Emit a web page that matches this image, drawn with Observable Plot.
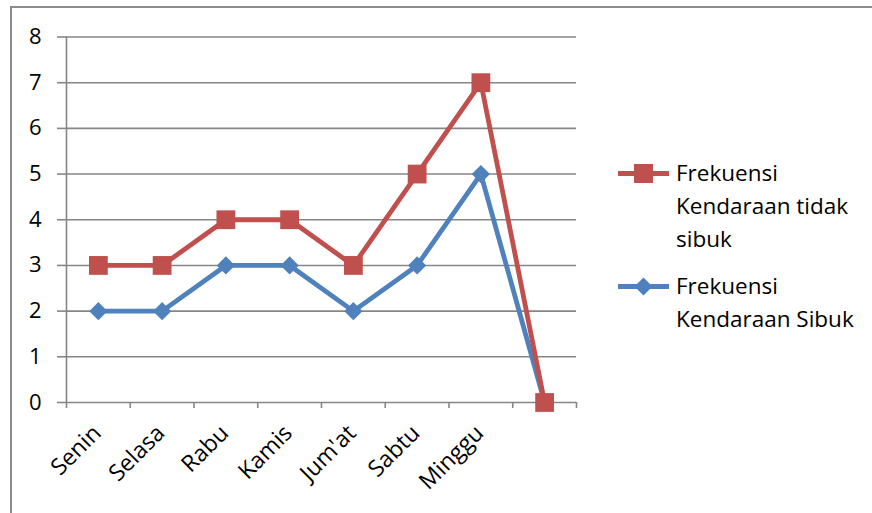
<!DOCTYPE html>
<html>
<head>
<meta charset="utf-8">
<script src="https://cdn.jsdelivr.net/npm/d3@7"></script>
<script src="https://cdn.jsdelivr.net/npm/@observablehq/plot@0.6"></script>
<style>
  html, body { margin: 0; padding: 0; background: #fff; }
  #wrap { position: relative; width: 872px; height: 513px; overflow: hidden; font-family: "Open Sans", sans-serif; }
  #frame { position: absolute; left: 10px; top: 6px; width: 880px; height: 600px; border-left: 2px solid #8c8c8c; border-top: 2px solid #8c8c8c; }
  #chart { position: absolute; left: 0; top: 0; }
  .leg { position: absolute; left: 618px; display: flex; align-items: flex-start; }
  .leg svg { flex: none; margin-top: 1px; }
  .leg .lbl { margin-left: 7px; width: 200px; font-size: 22.5px; line-height: 33px; color: #000; }
</style>
</head>
<body>
<div id="wrap">
  <div id="frame"></div>
  <div id="chart"></div>
</div>
<script>
const categories = ["Senin", "Selasa", "Rabu", "Kamis", "Jum'at", "Sabtu", "Minggu", ""];
const tidakSibuk = [3, 3, 4, 4, 3, 5, 7, 0];
const sibuk = [2, 2, 3, 3, 2, 3, 5, 0];
const yTicks = [0, 1, 2, 3, 4, 5, 6, 7, 8];
const xBoundaries = [0, 1, 2, 3, 4, 5, 6, 7, 8];
const seriesNames = ["Frekuensi Kendaraan tidak sibuk", "Frekuensi Kendaraan Sibuk"];
const seriesColors = ["#C0504D", "#4F81BD"];

const toRows = (vals) => categories.map((c, i) => ({ pos: i + 0.5, cat: c, v: vals[i] }));
const redRows = toRows(tidakSibuk);
const blueRows = toRows(sibuk);
const labelRows = categories.map((c, i) => ({ pos: i + 0.5, cat: c }));

const chart = Plot.plot({
  width: 872,
  height: 513,
  marginLeft: 66,
  marginRight: 296,
  marginTop: 36.5,
  marginBottom: 111,
  style: { fontFamily: "Open Sans, sans-serif", fontSize: "22px", color: "#000", background: "transparent", overflow: "visible" },
  x: { domain: [0, 8], axis: null },
  y: { domain: [0, 8], axis: null },
  marks: [
    Plot.ruleY(yTicks, { stroke: "#868686", strokeWidth: 1.6 }),
    Plot.ruleX([0], { y1: 0, y2: 8, stroke: "#868686", strokeWidth: 1.6 }),
    Plot.axisY({ ticks: yTicks, label: null, tickSize: 9, tickPadding: 16, stroke: "#868686", strokeWidth: 1.6, fill: "#000", fontSize: 22, tickFormat: d3.format("d") }),
    Plot.axisX({ ticks: xBoundaries, label: null, tickSize: 6, tickFormat: () => "", stroke: "#868686", strokeWidth: 1.6 }),
    Plot.text(labelRows, { x: "pos", text: "cat", frameAnchor: "bottom", rotate: -45, textAnchor: "end", dx: 4, dy: 32, fill: "#000", fontSize: 23 }),
    Plot.line(blueRows, { x: "pos", y: "v", stroke: seriesColors[1], strokeWidth: 4.8 }),
    Plot.dot(blueRows, { x: "pos", y: "v", symbol: "diamond2", r: 8.2, fill: seriesColors[1], stroke: null }),
    Plot.line(redRows, { x: "pos", y: "v", stroke: seriesColors[0], strokeWidth: 4.8 }),
    Plot.dot(redRows, { x: "pos", y: "v", symbol: "square", r: 10.6, fill: seriesColors[0], stroke: null })
  ]
});
document.getElementById("chart").appendChild(chart);

// Legend
const wrap = document.getElementById("wrap");
const legendTops = [156, 269];
const legendSymbols = ["square", "diamond"];
seriesNames.forEach((name, k) => {
  const div = document.createElement("div");
  div.className = "leg";
  div.style.top = legendTops[k] + "px";
  const sym = legendSymbols[k] === "square"
    ? `<rect x="16" y="7" width="19" height="19" fill="${seriesColors[k]}"/>`
    : `<polygon points="25.5,7.5 34.5,16.5 25.5,25.5 16.5,16.5" fill="${seriesColors[k]}"/>`;
  div.innerHTML = `<svg width="51" height="33"><line x1="0" x2="51" y1="16.5" y2="16.5" stroke="${seriesColors[k]}" stroke-width="4.8"/>${sym}</svg><div class="lbl">${name}</div>`;
  wrap.appendChild(div);
});
</script>
</body>
</html>
